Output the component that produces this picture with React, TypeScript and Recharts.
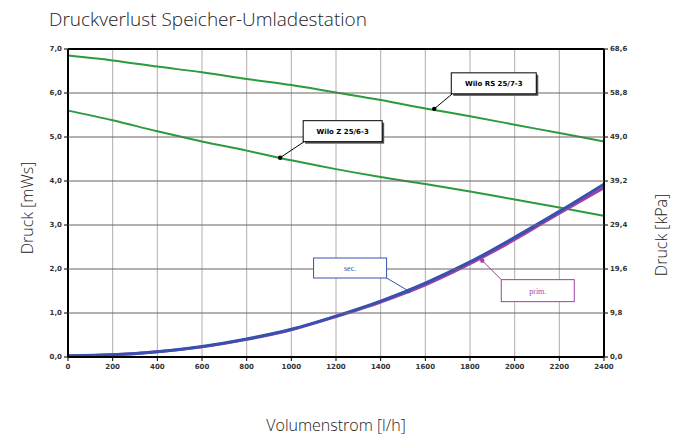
import React from 'react';
import {
  LineChart,
  Line,
  XAxis,
  YAxis,
  CartesianGrid,
  ReferenceDot,
} from 'recharts';

// Volumenstrom [l/h]
const flow = [0, 200, 400, 600, 800, 1000, 1200, 1400, 1600, 1800, 2000, 2200, 2400];
// pump curves [mWs]
const wiloRS = [6.85, 6.74, 6.6, 6.47, 6.32, 6.18, 6.01, 5.84, 5.65, 5.47, 5.28, 5.09, 4.9];
const wiloZ = [5.6, 5.38, 5.13, 4.9, 4.69, 4.47, 4.27, 4.09, 3.93, 3.76, 3.58, 3.4, 3.21];
// pressure loss curves [mWs]
const secLoss = [0.03, 0.05, 0.12, 0.24, 0.41, 0.63, 0.93, 1.27, 1.68, 2.16, 2.72, 3.31, 3.93];
const primLoss = [0.02, 0.05, 0.12, 0.23, 0.4, 0.62, 0.92, 1.25, 1.64, 2.12, 2.67, 3.27, 3.85];

const flowTicks = [0, 200, 400, 600, 800, 1000, 1200, 1400, 1600, 1800, 2000, 2200, 2400];
const mwsTicks = [0, 1, 2, 3, 4, 5, 6, 7];
const kpaTicks = [0, 9.8, 19.6, 29.4, 39.2, 49.0, 58.8, 68.6];

// callouts: label, anchor flow, anchor value
const noteLabels = ['Wilo RS 25/7-3', 'Wilo Z 25/6-3', 'sec.', 'prim.'];
const noteFlow = [1640, 950, 1525, 1855];
const noteValue = [5.64, 4.53, 1.5, 2.19];

const data = flow.map((q, i) => ({
  q,
  rs: wiloRS[i],
  z: wiloZ[i],
  sec: secLoss[i],
  prim: primLoss[i],
}));

const GREEN = '#2c9a3e';
const BLUE = '#3552b0';
const PURPLE = '#a23fa6';

const W = 683;
const H = 436;
const MARGIN = { top: 49, right: 49, bottom: 59, left: 38 };
const AXIS_W = 30;
const PLOT_W = W - MARGIN.left - MARGIN.right - 2 * AXIS_W;

const noteStyle = [
  { dx: 17, dy: -36, w: 85, h: 21, lx: 18, ly: -15, color: '#000', bold: true, shadow: true, dot: '#000' },
  { dx: 23, dy: -37, w: 79, h: 21, lx: 24, ly: -16, color: '#000', bold: true, shadow: true, dot: '#000' },
  { dx: -95, dy: -33, w: 73, h: 20, lx: -22, ly: -13, color: BLUE, bold: false, shadow: false, dot: BLUE },
  { dx: 19, dy: 19, w: 73, h: 22, lx: 19, ly: 19, color: PURPLE, bold: false, shadow: false, dot: PURPLE },
];

const fmt = (v: number) => v.toFixed(1).replace('.', ',');

const tickStyle = { fontSize: 7, fill: '#333', fontFamily: 'DejaVu Sans', fontWeight: 'bold' as const };

const Callout = (idx: number) => (props: any) => {
  const { cx, cy } = props;
  const s = noteStyle[idx];
  const bx = cx + s.dx;
  const by = cy + s.dy;
  return (
    <g>
      <line x1={cx} y1={cy} x2={cx + s.lx} y2={cy + s.ly} stroke={s.color} strokeWidth={1} />
      <circle cx={cx} cy={cy} r={2.2} fill={s.dot} />
      {s.shadow && <rect x={bx + 2} y={by + 2} width={s.w} height={s.h} fill="#555" />}
      <rect x={bx} y={by} width={s.w} height={s.h} fill="#fff" stroke={s.color} strokeWidth={1} />
      <text
        x={bx + s.w / 2}
        y={by + s.h / 2 + 3}
        textAnchor="middle"
        fontSize={s.bold ? 7 : 8}
        fontWeight={s.bold ? 'bold' : 'normal'}
        fontFamily={s.bold ? 'DejaVu Sans' : 'Liberation Serif'}
        fill={s.color}
      >
        {noteLabels[idx]}
      </text>
    </g>
  );
};

// horizontal grid row as a thin filled rect, anchored at the left edge of the plot
const GridRow = (color: string, width: number) => (props: any) => {
  const { cx, cy } = props;
  return <rect x={cx} y={cy - width / 2} width={PLOT_W} height={width} fill={color} />;
};

const labelStyle: React.CSSProperties = {
  position: 'absolute',
  fontFamily: 'Open Sans',
  fontWeight: 300,
  fontSize: 16,
  color: '#222',
  whiteSpace: 'nowrap',
};

export default function App() {
  const top = mwsTicks[mwsTicks.length - 1];
  return (
    <div style={{ position: 'absolute', left: 0, top: 0, width: W, height: H, background: '#fff' }}>
      <div style={{ ...labelStyle, left: 49, top: 6, fontSize: 19 }}>Druckverlust Speicher-Umladestation</div>
      <LineChart width={W} height={H} data={data} margin={MARGIN}>
        <CartesianGrid horizontal={false} stroke="#b4acac" />
        <XAxis
          dataKey="q"
          type="number"
          domain={[0, 2400]}
          ticks={flowTicks}
          interval={0}
          height={20}
          axisLine={{ stroke: '#000', strokeWidth: 2 }}
          tickLine={{ stroke: '#000' }}
          tickSize={4}
          tickMargin={3}
          tick={tickStyle}
        />
        <YAxis
          type="number"
          domain={[0, 7]}
          ticks={mwsTicks}
          interval={0}
          width={AXIS_W}
          tickFormatter={fmt}
          axisLine={{ stroke: '#000', strokeWidth: 2 }}
          tickLine={{ stroke: '#000' }}
          tickSize={4}
          tickMargin={2}
          tick={tickStyle}
        />
        <YAxis
          yAxisId="right"
          orientation="right"
          type="number"
          domain={[0, 68.6]}
          allowDataOverflow
          ticks={kpaTicks}
          interval={0}
          width={AXIS_W}
          tickFormatter={fmt}
          axisLine={{ stroke: '#000', strokeWidth: 2 }}
          tickLine={{ stroke: '#000' }}
          tickSize={4}
          tickMargin={2}
          tick={tickStyle}
        />
        {mwsTicks.slice(1).map((v) => (
          <ReferenceDot
            key={`grid-${v}`}
            x={flowTicks[0]}
            y={v}
            r={1}
            ifOverflow="visible"
            shape={GridRow(v === top ? '#000' : '#6e6464', v === top ? 2 : 1)}
          />
        ))}
        <Line dataKey="rs" type="monotone" stroke={GREEN} strokeWidth={2} dot={false} isAnimationActive={false} />
        <Line dataKey="z" type="monotone" stroke={GREEN} strokeWidth={2} dot={false} isAnimationActive={false} />
        <Line dataKey="prim" type="monotone" stroke={PURPLE} strokeWidth={3} dot={false} isAnimationActive={false} />
        <Line dataKey="sec" type="monotone" stroke={BLUE} strokeWidth={3} dot={false} isAnimationActive={false} />
        <Line yAxisId="right" dataKey="kpa" stroke="none" dot={false} legendType="none" isAnimationActive={false} />
        {noteLabels.map((label, i) => (
          <ReferenceDot key={label} x={noteFlow[i]} y={noteValue[i]} r={2} shape={Callout(i)} />
        ))}
      </LineChart>
      <div style={{ ...labelStyle, left: 27, top: 208, transform: 'translate(-50%, -50%) rotate(-90deg)' }}>
        Druck [mWs]
      </div>
      <div style={{ ...labelStyle, left: 661, top: 235, transform: 'translate(-50%, -50%) rotate(-90deg)' }}>
        Druck [kPa]
      </div>
      <div style={{ ...labelStyle, left: 336, top: 425, transform: 'translate(-50%, -50%)' }}>
        Volumenstrom [l/h]
      </div>
    </div>
  );
}
